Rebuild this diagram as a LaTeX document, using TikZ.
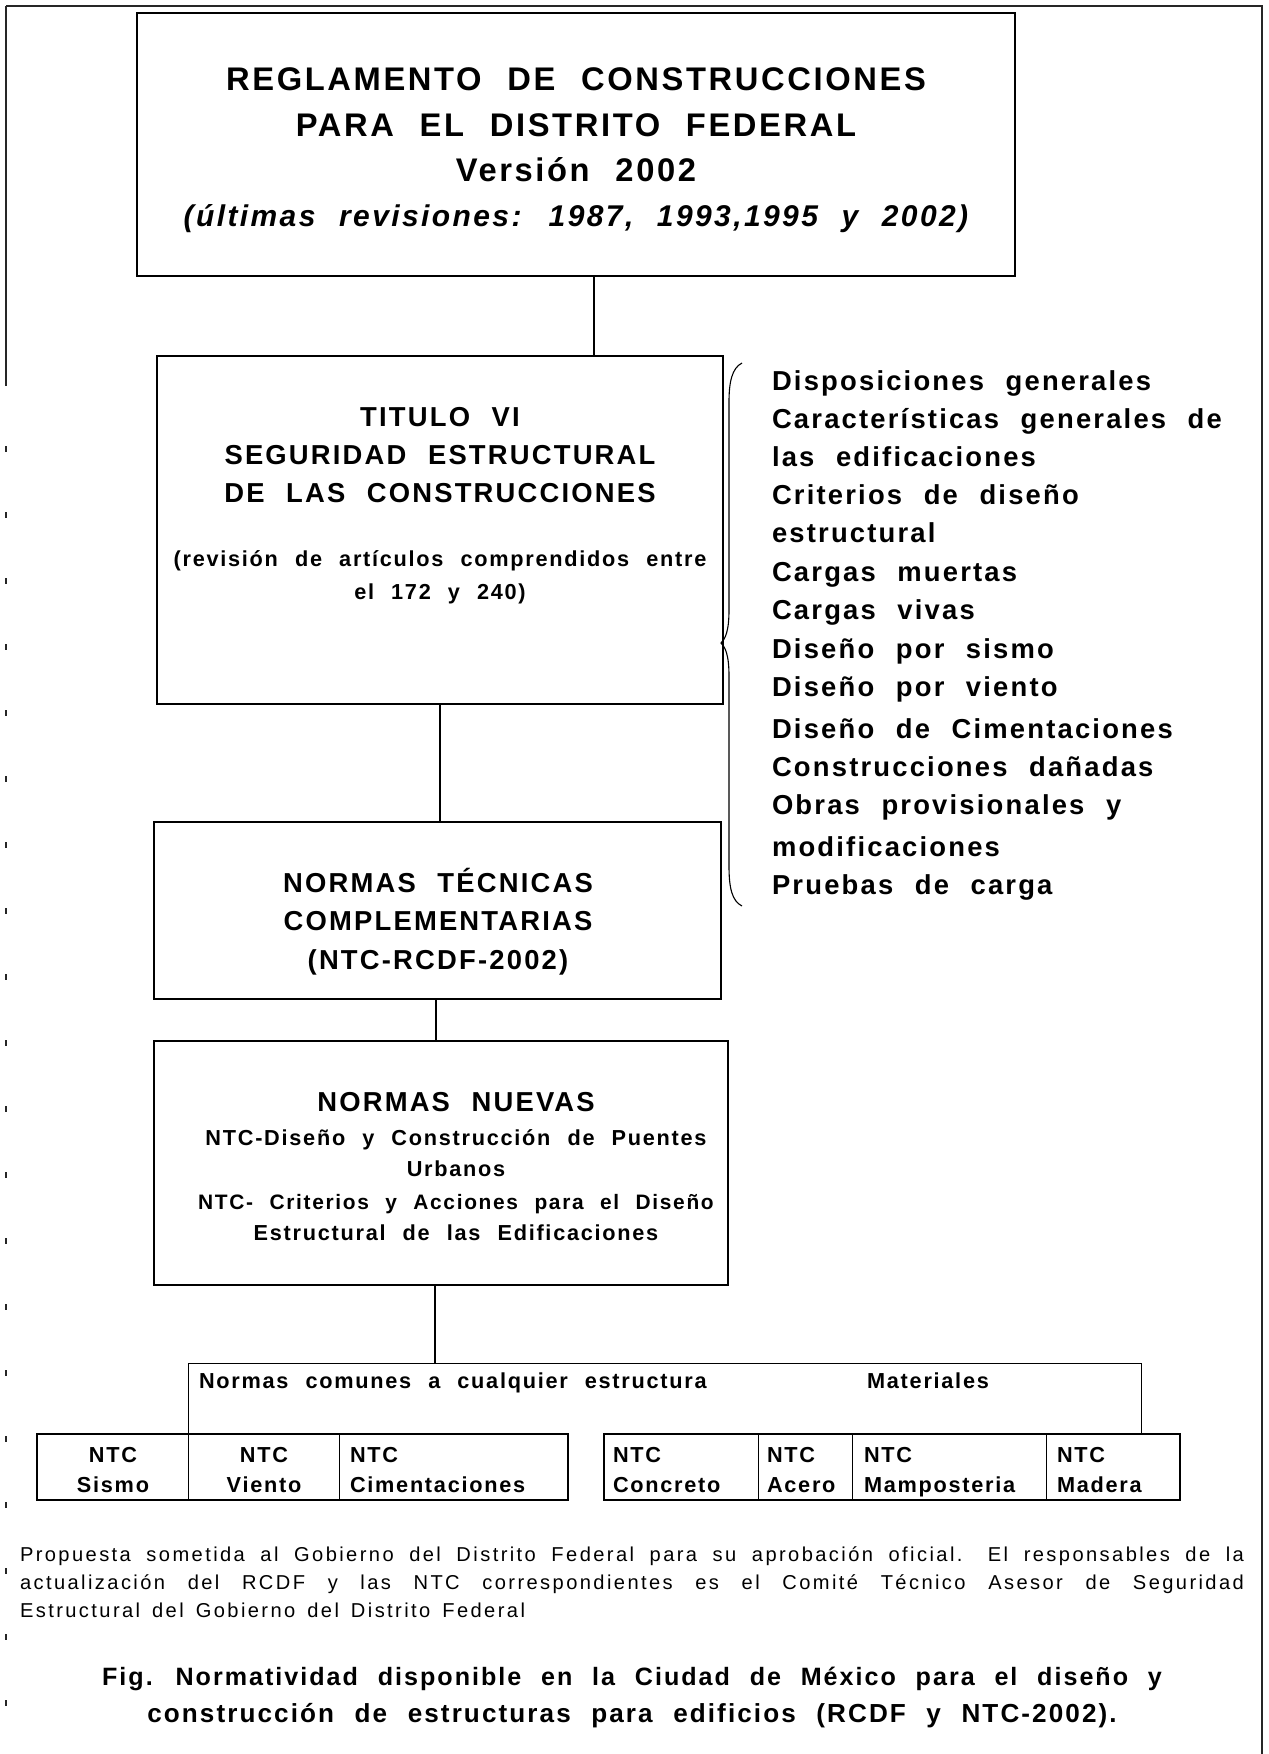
\documentclass[tikz,border=0pt]{standalone}
\usepackage{fontspec}
\setmainfont{Liberation Sans}
\newfontfamily\trk[LetterSpace=8,WordSpace=2.2]{Liberation Sans}
\newfontfamily\trkn[LetterSpace=12,WordSpace=1.5]{Liberation Sans}
\newcommand{\fs}[2]{\fontsize{#1pt}{#2pt}\selectfont}
\begin{document}
\begin{tikzpicture}[x=1pt,y=-1pt,
  box/.style={draw, line width=2.4pt, inner sep=0pt, outer sep=0pt},
  conn/.style={line width=1.2pt},
  thinln/.style={line width=0.9pt},
  frameln/.style={line width=1.3pt, black!85},
  txt/.style={inner sep=0pt, outer sep=0pt, anchor=base},
  txtl/.style={inner sep=0pt, outer sep=0pt, anchor=base west},
  fbig/.style={font=\trk\bfseries\fs{32.7}{40}},
  fital/.style={font=\trk\bfseries\itshape\fs{30}{38}},
  fmid/.style={font=\trk\bfseries\fs{27.4}{33}},
  fsml/.style={font=\trk\bfseries\fs{21.7}{27}},
  fsmlb/.style={font=\trk\bfseries\fs{20.9}{27}},
  fnote/.style={font=\trkn\fs{20.1}{24}},
  fcap/.style={font=\trk\bfseries\fs{25.1}{32}},
  fcapb/.style={font=\trk\bfseries\fs{26.1}{32}}]
\useasboundingbox (0,0) rectangle (1269,1754);
% page frame
\coordinate (fTL) at (6,6);
\coordinate (fTR) at (1262,6);
\coordinate (fBR) at (1262,1754);
\coordinate (fL1) at (6,380);
\coordinate (fBL) at (6,1754);
\draw[frameln] (fTL) -- (fTR) -- (fBR);
\draw[frameln] (fTL) -- (fL1);
\draw[frameln, dash pattern=on 6pt off 60pt] (fL1) -- (fBL);

% boxes
\node[box, minimum width=878pt, minimum height=263pt] (top) at (576,144.5) {};
\node[box, minimum width=566pt, minimum height=348pt] (titulo) at (440,530) {};
\node[box, minimum width=567pt, minimum height=177pt] (ntc) at (437.5,910.5) {};
\node[box, minimum width=574pt, minimum height=244pt] (nn) at (441,1163) {};
\node[box, minimum width=531pt, minimum height=66pt] (bl) at (302.5,1467) {};
\node[box, minimum width=576pt, minimum height=66pt] (br) at (892,1467) {};

% top box text
\node[txt, fbig] (t1) at (576,90) {REGLAMENTO DE CONSTRUCCIONES};
\node[txt, fbig] (t2) at (576,136) {PARA EL DISTRITO FEDERAL};
\node[txt, fbig] (t3) at (576,181) {Versión 2002};
\node[txt, fital] (t4) at (576,226) {(últimas revisiones: 1987, 1993,1995 y 2002)};

% titulo text
\node[txt, fmid] (ti1) at (440,426) {TITULO VI};
\node[txt, fmid] (ti2) at (440,464) {SEGURIDAD ESTRUCTURAL};
\node[txt, fmid] (ti3) at (440,502) {DE LAS CONSTRUCCIONES};
\node[txt, fsml] (ti4) at (440,566) {(revisión de artículos comprendidos entre};
\node[txt, fsml] (ti5) at (440,599) {el 172 y 240)};

% NTC text
\node[txt, fmid] (n1) at (438,892) {NORMAS TÉCNICAS};
\node[txt, fmid] (n2) at (438,930) {COMPLEMENTARIAS};
\node[txt, fmid] (n3) at (438,969) {(NTC-RCDF-2002)};

% normas nuevas text
\node[txt, fmid] (nn1) at (456,1111) {NORMAS NUEVAS};
\node[txt, fsml] (nn2) at (456,1145) {NTC-Diseño y Construcción de Puentes};
\node[txt, fsml] (nn3) at (456,1176) {Urbanos};
\node[txt, fsmlb] (nn4) at (456,1209) {NTC- Criterios y Acciones para el Diseño};
\node[txt, fsml] (nn5) at (456,1240) {Estructural de las Edificaciones};

% list
\foreach \yy/\tt [count=\i] in {390/Disposiciones generales, 428/Características generales de,
  466/las edificaciones, 504/Criterios de diseño, 542/estructural, 581/Cargas muertas,
  619/Cargas vivas, 658/Diseño por sismo, 696/Diseño por viento, 738/Diseño de Cimentaciones,
  776/Construcciones dañadas, 814/Obras provisionales y, 856/modificaciones, 894/Pruebas de carga}
  \node[txtl, fmid] (l\i) at (772,\yy) {\tt};

% brace
\draw[line width=1.1pt] (742,363) .. controls (732,368) and (729,382) .. (729,402)
  -- (729,610) .. controls (729,632) and (725,639) .. (721,643)
  .. controls (725,647) and (729,654) .. (729,676)
  -- (729,866) .. controls (729,888) and (732,901) .. (742,906);

% connectors
\coordinate (j1) at (594,0);
\draw[conn] (top.south -| j1) -- (titulo.north -| j1);
\draw[conn] (titulo.south) -- (titulo.south |- ntc.north);
\coordinate (j3) at (436,0);
\draw[conn] (ntc.south -| j3) -- (nn.north -| j3);
\coordinate (j2) at (435,1363);
\coordinate (bL) at (188,1363);
\coordinate (bR) at (1141,1363);
\draw[conn] (nn.south -| j2) -- (j2);
\draw[thinln] (bL |- bl.north) -- (bL) -- (bR) -- (bR |- br.north);

% dividers
\coordinate (d2) at (339,0);
\coordinate (d3) at (758,0);
\coordinate (d4) at (852,0);
\coordinate (d5) at (1046,0);
\draw[thinln] (bL |- bl.north) -- (bL |- bl.south);
\draw[thinln] (d2 |- bl.north) -- (d2 |- bl.south);
\draw[thinln] (d3 |- br.north) -- (d3 |- br.south);
\draw[thinln] (d4 |- br.north) -- (d4 |- br.south);
\draw[thinln] (d5 |- br.north) -- (d5 |- br.south);

% group labels
\node[txtl, fsml] (g1) at (199,1388) {Normas comunes a cualquier estructura};
\node[txt, fsml] (g2) at (928,1388) {Materiales};

% cells
\node[txt, fsml] (c1a) at (113,1462) {NTC};
\node[txt, fsml] (c1b) at (113,1492) {Sismo};
\node[txt, fsml] (c2a) at (264,1462) {NTC};
\node[txt, fsml] (c2b) at (264,1492) {Viento};
\node[txtl, fsml] (c3a) at (350,1462) {NTC};
\node[txtl, fsml] (c3b) at (350,1492) {Cimentaciones};
\node[txtl, fsml] (c4a) at (613,1462) {NTC};
\node[txtl, fsml] (c4b) at (613,1492) {Concreto};
\node[txtl, fsml] (c5a) at (767,1462) {NTC};
\node[txtl, fsml] (c5b) at (767,1492) {Acero};
\node[txtl, fsml] (c6a) at (864,1462) {NTC};
\node[txtl, fsml] (c6b) at (864,1492) {Mamposteria};
\node[txtl, fsml] (c7a) at (1057,1462) {NTC};
\node[txtl, fsml] (c7b) at (1057,1492) {Madera};

% footnote
\node[txtl, fnote] (f1) at (20,1561) {\makebox[1224pt][s]{Propuesta sometida al Gobierno del Distrito Federal para su aprobación oficial. El responsables de la}};
\node[txtl, fnote] (f2) at (20,1589) {\makebox[1224pt][s]{actualización del RCDF y las NTC correspondientes es el Comité Técnico Asesor de Seguridad}};
\node[txtl, fnote] (f3) at (20,1617) {Estructural del Gobierno del Distrito Federal};

% caption
\node[txt, fcap] (cap1) at (632,1685) {Fig. Normatividad disponible en la Ciudad de México para el diseño y};
\node[txt, fcapb] (cap2) at (632,1722) {construcción de estructuras para edificios (RCDF y NTC-2002).};
\end{tikzpicture}
\end{document}
